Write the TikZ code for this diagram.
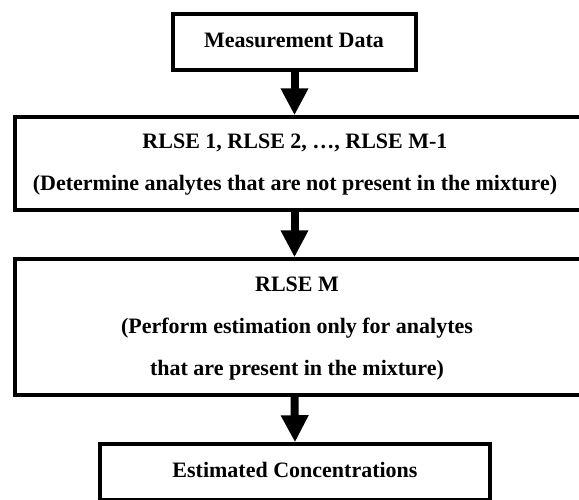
\documentclass[tikz,border=0pt]{standalone}
\usepackage{fontspec}
\setmainfont{Liberation Serif}
\usetikzlibrary{arrows.meta}
\begin{document}
\begin{tikzpicture}[x=1pt,y=-1pt,
  box/.style={draw=black, line width=3.5pt, rectangle, inner sep=0pt},
  txt/.style={align=center, inner sep=0pt, font=\fontsize{22}{42}\selectfont\bfseries},
  flow/.style={line width=8pt, -{Triangle[width=26pt,length=27pt]}}]
  \useasboundingbox (0,0) rectangle (579,499);
  % boxes (the two wide ones run past the right edge of the page)
  \node[box, minimum width=243pt, minimum height=56pt] (meas) at (294.5,42) {};
  \node[box, minimum width=570pt, minimum height=93pt] (rlse) at (299.8,163.5) {};
  \node[box, minimum width=570pt, minimum height=136pt] (rlsem) at (299.8,327) {};
  \node[box, minimum width=390pt, minimum height=56pt] (est) at (295,472) {};
  % box texts
  \node[txt] (meas-t) at (294,40) {Measurement Data};
  \node[txt] (rlse-t) at (295,165)
    {RLSE 1, RLSE 2, …, RLSE M-1\\(Determine analytes that are not present in the mixture)};
  \node[txt] (rlsem-t) at (297,329)
    {RLSE M\\(Perform estimation only for analytes\\that are present in the mixture)};
  \node[txt] (est-t) at (295,470) {Estimated Concentrations};
  % connectors
  \draw[flow] (meas.south) -- (meas.south |- rlse.north);
  \draw[flow] (meas.south |- rlse.south) -- (meas.south |- rlsem.north);
  \draw[flow] (meas.south |- rlsem.south) -- (est.north);
\end{tikzpicture}
\end{document}
